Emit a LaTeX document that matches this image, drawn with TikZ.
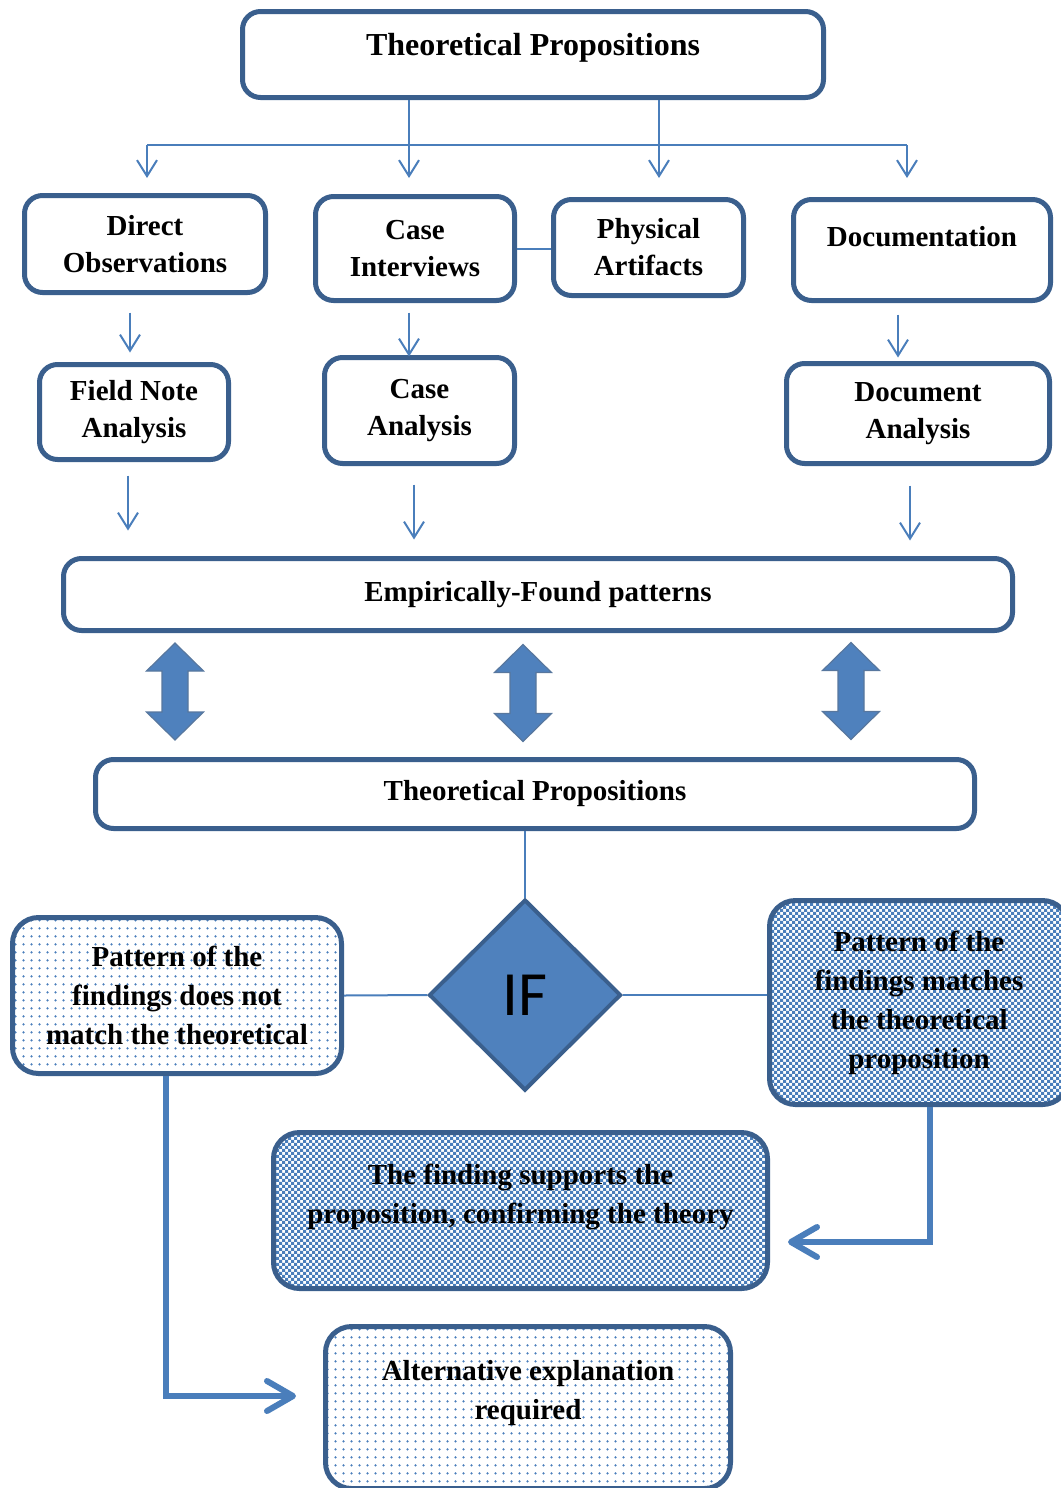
\documentclass[tikz,border=0pt]{standalone}
\usepackage{fontspec}
\setmainfont{Liberation Serif}
\newfontfamily\iffont{Carlito}
\usetikzlibrary{arrows.meta,patterns,patterns.meta,shapes.geometric}
\definecolor{bord}{HTML}{3A5F8D}
\definecolor{lnblue}{HTML}{4A7EBB}
\definecolor{fillblue}{HTML}{4F81BD}
\pgfdeclarepatternformonly{finechecker}{\pgfqpoint{-0.5pt}{-0.5pt}}{\pgfqpoint{3.5pt}{3.5pt}}{\pgfqpoint{3pt}{3pt}}{%
  \pgfpathrectangle{\pgfqpoint{0pt}{0pt}}{\pgfqpoint{1.5pt}{1.5pt}}%
  \pgfpathrectangle{\pgfqpoint{1.5pt}{1.5pt}}{\pgfqpoint{1.5pt}{1.5pt}}%
  \pgfusepath{fill}}
\tikzset{
  box/.style={draw=bord, line width=2.5pt, rounded corners=9pt, fill=white, inner sep=0pt,
    align=center, font=\fontsize{14.5}{18.5}\selectfont\bfseries},
  lowbox/.style={draw=bord, line width=2.5pt, rounded corners=13pt, inner sep=0pt,
    align=center, font=\fontsize{14.5}{19.5}\selectfont\bfseries},
  dotfill/.style={pattern={Dots[distance=4pt,radius=0.7pt]}, pattern color=lnblue},
  checkfill/.style={pattern=finechecker, pattern color=lnblue},
  txt/.style={align=center, inner sep=0pt},
  thinln/.style={draw=lnblue, line width=1pt},
  thinarr/.style={thinln, -{Straight Barb[length=8pt,width=10pt]}},
  thickarr/.style={draw=lnblue, line width=3pt, -{Straight Barb[length=13pt,width=15pt,round]}},
}
\begin{document}
\begin{tikzpicture}[x=0.5pt,y=-0.5pt]
\useasboundingbox (0,0) rectangle (1060,1488);

% top
\node[box, minimum width=290.5pt, minimum height=43pt] (top) at (533,54.5) {};
\node[txt, font=\fontsize{16}{19}\selectfont\bfseries] (topt) at ([yshift=3.5pt]top.center) {Theoretical Propositions};

% row 2
\node[box, minimum width=120.5pt, minimum height=48.5pt] (dobs) at (145,244) {Direct\\Observations};
\node[box, minimum width=99.5pt, minimum height=52pt] (cint) at (415,248.5) {Case\\Interviews};
\node[box, minimum width=95pt, minimum height=48pt] (phys) at (648.5,247.5) {Physical\\Artifacts};
\node[box, minimum width=128.5pt, minimum height=50.5pt] (docu) at (922,250) {};
\node[txt, font=\fontsize{14.5}{18.5}\selectfont\bfseries] (docut) at ([yshift=6.5pt]docu.center) {Documentation};

% row 3
\node[box, minimum width=94.5pt, minimum height=47.5pt] (fna) at (134,412) {Field Note\\Analysis};
\node[box, minimum width=95pt, minimum height=53pt] (cana) at (419.5,410.5) {Case\\Analysis};
\node[box, minimum width=131.5pt, minimum height=50pt] (dana) at (918,413.5) {Document\\Analysis};

% empirical + theoretical
\node[box, minimum width=474.5pt, minimum height=36pt] (emp) at (538,594.5) {Empirically-Found patterns};
\node[box, minimum width=439.5pt, minimum height=34.5pt] (tp2) at (535,794) {Theoretical Propositions};

% lower part
\node[lowbox, dotfill, minimum width=164.5pt, minimum height=78pt] (nomatch) at (177,995.5)
  {Pattern of the\\findings does not\\match the theoretical};
\node[lowbox, checkfill, minimum width=149.5pt, minimum height=102pt] (match) at (919,1002.5)
  {Pattern of the\\findings matches\\the theoretical\\proposition};
\node[diamond, draw=bord, line width=2pt, fill=fillblue, minimum width=96pt, minimum height=95.5pt,
  inner sep=0pt, font=\iffont\fontsize{31.5}{36}\selectfont] (ifd) at (525,995) {IF};
\node[lowbox, checkfill, minimum width=247pt, minimum height=78pt] (supp) at (520.5,1210.5) {};
\node[txt, font=\fontsize{14.5}{19.5}\selectfont\bfseries] (suppt) at ([yshift=7pt]supp.center)
  {The finding supports the\\proposition, confirming the theory};
\node[lowbox, dotfill, minimum width=202.5pt, minimum height=81pt] (alt) at (528,1407.5) {};
\node[txt, font=\fontsize{14.5}{19.5}\selectfont\bfseries] (altt) at ([yshift=7pt]alt.center)
  {Alternative explanation\\required};

% top connectors
\coordinate (hL) at (147,145);
\coordinate (hR) at (907,145);
\coordinate (h1) at (409,145);
\coordinate (h2) at (659,145);
\draw[thinln] (hL) -- (hR);
\draw[thinarr] (top.south -| h1) -- (h1) -- ++(0,33);
\draw[thinarr] (top.south -| h2) -- (h2) -- ++(0,33);
\draw[thinarr] (hL) -- ++(0,33);
\draw[thinarr] (hR) -- ++(0,33);
\draw[thinln] (cint.east) -- (cint.east -| phys.west);

% row 2 -> row 3
\draw[thinarr] ([xshift=-7.5pt,yshift=-8.75pt]dobs.south) -- ++(0,40);
\draw[thinarr] ([xshift=-3pt,yshift=-4.75pt]cint.south) -- ++(0,44);
\draw[thinarr] ([xshift=-12pt,yshift=-5.75pt]docu.south) -- ++(0,43);

% row 3 -> empirical
\draw[thinarr] ([xshift=-3pt,yshift=-6.75pt]fna.south) -- ++(0,55);
\draw[thinarr] ([xshift=-2.75pt,yshift=-9.25pt]cana.south) -- ++(0,55);
\draw[thinarr] ([xshift=-4pt,yshift=-9.75pt]dana.south) -- ++(0,55);

% double block arrows
\foreach \cx/\cy in {175/691.5, 523/693, 851/691}{
  \filldraw[fill=fillblue, draw=bord!85, line width=0.6pt]
    (\cx,\cy-48.5) -- (\cx+28.5,\cy-20.5) -- (\cx+13,\cy-20.5) -- (\cx+13,\cy+20.5)
    -- (\cx+28.5,\cy+20.5) -- (\cx,\cy+48.5) -- (\cx-28.5,\cy+20.5) -- (\cx-13,\cy+20.5)
    -- (\cx-13,\cy-20.5) -- (\cx-28.5,\cy-20.5) -- cycle;
}

% lower connectors
\draw[thinln] (tp2.south -| ifd.north) -- (ifd.north);
\draw[thinln] (nomatch.east) -- (ifd.west);
\draw[thinln] (ifd.east) -- (ifd.east -| match.west);

\coordinate (k1) at (930,1242);
\coordinate (k2) at (166,1396);
\draw[thickarr, shorten >=9pt] (match.south -| k1) -- (k1) -- (k1 -| supp.east);
\draw[thickarr, shorten >=13.5pt] (nomatch.south -| k2) -- (k2) -- (k2 -| alt.west);
\end{tikzpicture}
\end{document}
